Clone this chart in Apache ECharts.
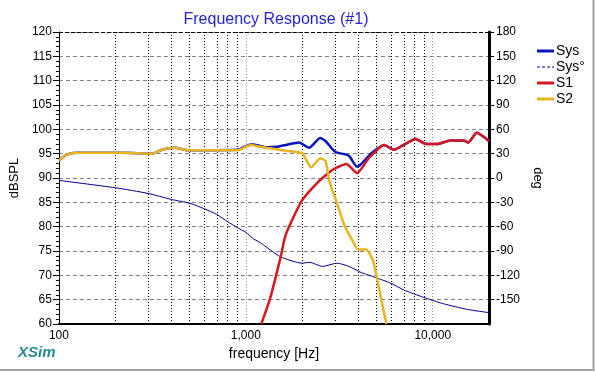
<!DOCTYPE html>
<html>
<head>
<meta charset="utf-8">
<script src="https://cdn.jsdelivr.net/npm/echarts@6/dist/echarts.min.js"></script>
<style>html,body{margin:0;padding:0;background:#fff}#c{width:595px;height:372px}</style>
</head>
<body>
<div id="c"></div>
<script>
// ---- data ----
const sysFreq = [100,110,124,220,316,355,417,490,900,1060,1100,1290,1460,1640,1930,2180,2500,2670,3000,3550,3940,4150,4700,5500,6200,7000,8100,9200,10600,12400,14600,15500,17200,20000];
const sysDb   = [93.6,94.8,95.2,95.2,95.0,95.8,96.2,95.7,95.8,96.9,96.9,96.3,96.4,96.8,97.3,96.2,98.2,97.6,95.4,94.6,92.3,92.9,95.1,96.8,95.8,96.8,98.0,97.0,97.0,97.7,97.7,97.3,99.3,97.6];

const phFreq = [100,200,300,400,500,600,700,800,900,1000,1100,1200,1530,2000,2200,2570,3080,3560,4140,5000,6000,7000,8900,11400,15300,20000];
const phDeg  = [-3,-12,-19,-26.5,-31,-38,-45,-54,-61,-67,-75,-80,-97,-105,-104,-109,-105,-109,-116.5,-123,-130,-138,-147,-155,-162,-166];

const s1Freq = [1210,1350,1530,1640,2000,2470,2800,3000,3450,3940,4530,5500,6200,7000,8100,9200,10600,12400,14600,15500,17200,20000];
const s1Db   = [60,65.3,73.5,78.5,85.4,89.4,91.2,92.0,92.9,91.0,94.0,96.8,95.8,96.8,98.0,97.0,97.0,97.7,97.7,97.3,99.3,97.6];

const s2Freq = [100,110,124,220,316,355,417,490,900,1060,1200,1350,1640,2000,2100,2230,2500,2670,2800,3000,3360,3700,4000,4400,4800,5200,5650];
const s2Db   = [93.6,94.8,95.2,95.2,95.0,95.8,96.2,95.7,95.7,96.8,96.4,96.1,95.6,95.1,93.8,92.2,94.0,93.5,89.3,86.0,80.4,77.3,75.3,75.3,72.9,66.7,60];

const minorFreqs = [200,300,400,500,600,700,800,900,2000,3000,4000,5000,6000,7000,8000,9000];
const leftTicks = {min:60, max:120, step:5};
const rightTicks = {min:-180, max:180, step:30};

const zip = (a,b) => a.map((v,i)=>[v,b[i]]);
const FONT = 'Liberation Sans, Arial, sans-serif';
const BAR_ICON = 'path://M0,0 L17,0 L17,3 L0,3 Z';
const DASH_ICON = 'path://M0,0 L3,0 L3,1 L0,1 Z M5,0 L8,0 L8,1 L5,1 Z M10,0 L13,0 L13,1 L10,1 Z M15,0 L17,0 L17,1 L15,1 Z';

const chart = echarts.init(document.getElementById('c'), null, {renderer:'canvas'});
chart.setOption({
  animation:false,
  backgroundColor:'#fff',
  title:{
    text:'Frequency Response (#1)', left:271, top:7, textAlign:'center',
    textStyle:{color:'#2424d4', fontSize:16, fontWeight:'normal', fontFamily:FONT}
  },
  legend:{
    orient:'vertical', left:532, top:39, itemWidth:17, itemHeight:14, itemGap:2,
    symbolKeepAspect:true,
    textStyle:{fontSize:14, color:'#000', fontFamily:FONT, padding:[0,0,0,-3]},
    data:[
      {name:'Sys', icon:BAR_ICON},
      {name:'Sys°', icon:DASH_ICON},
      {name:'S1', icon:BAR_ICON},
      {name:'S2', icon:BAR_ICON}
    ]
  },
  grid:{left:53, right:106, top:32, bottom:48, containLabel:false},
  xAxis:{
    type:'log', logBase:10, min:100, max:20000,
    name:'frequency [Hz]', nameLocation:'middle', nameGap:21,
    nameTextStyle:{fontSize:14, color:'#000', fontFamily:FONT},
    axisLine:{show:true, onZero:false, lineStyle:{color:'#000', width:2}},
    axisTick:{show:false},
    axisLabel:{color:'#000', fontSize:12, fontFamily:FONT, margin:6, showMaxLabel:false,
      formatter:v => Number(v).toLocaleString('en-US')},
    splitLine:{show:true, lineStyle:{color:'#9a9a9a', type:[1,2], width:1}}
  },
  yAxis:[
    {
      type:'value', min:leftTicks.min, max:leftTicks.max, interval:leftTicks.step,
      name:'dBSPL', nameLocation:'middle', nameGap:35, nameRotate:90,
      nameTextStyle:{fontSize:13, color:'#000', fontFamily:FONT},
      axisLine:{show:true, onZero:false, lineStyle:{color:'#000', width:1}},
      axisTick:{show:true, inside:false, length:6, lineStyle:{color:'#000'}},
      minorTick:{show:true, splitNumber:5, length:3, lineStyle:{color:'#000'}},
      axisLabel:{color:'#000', fontSize:12, fontFamily:FONT, margin:7},
      splitLine:{show:true, lineStyle:{color:'#808080', type:[4,3], width:1}}
    },
    {
      type:'value', min:rightTicks.min, max:rightTicks.max, interval:rightTicks.step,
      position:'right',
      name:'deg', nameLocation:'middle', nameGap:33, nameRotate:-90,
      nameTextStyle:{fontSize:13, color:'#000', fontFamily:FONT},
      axisLine:{show:true, onZero:false, lineStyle:{color:'#000', width:3}},
      axisTick:{show:true, length:5, lineStyle:{color:'#000'}},
      axisLabel:{color:'#000', fontSize:12, fontFamily:FONT, margin:7, showMinLabel:false},
      splitLine:{show:false}
    }
  ],
  series:[
    {
      name:'grid-extra', type:'line', data:[], silent:true, yAxisIndex:0, symbol:'none',
      markLine:{
        silent:true, symbol:'none', label:{show:false}, animation:false,
        lineStyle:{color:'#000', type:[1,2], width:1},
        data: minorFreqs.map(f=>({xAxis:f})).concat([
          {yAxis:120, lineStyle:{color:'#000', type:[4,2], width:1}}
        ])
      }
    },
    {name:'Sys', type:'line', yAxisIndex:0, data:zip(sysFreq,sysDb), symbol:'none', smooth:0.2,
      lineStyle:{color:'#0a14c0', width:2.5}, itemStyle:{color:'#0a14c0'}, z:3},
    {name:'Sys°', type:'line', yAxisIndex:1, data:zip(phFreq,phDeg), symbol:'none', smooth:0.2,
      lineStyle:{color:'#00008c', width:1}, itemStyle:{color:'#00008c'}, z:4},
    {name:'S1', type:'line', yAxisIndex:0, data:zip(s1Freq,s1Db), symbol:'none', smooth:0.2,
      lineStyle:{color:'#d81820', width:2.5}, itemStyle:{color:'#d81820'}, z:5},
    {name:'S2', type:'line', yAxisIndex:0, data:zip(s2Freq,s2Db), symbol:'none', smooth:0.2,
      lineStyle:{color:'#e8b422', width:2.5}, itemStyle:{color:'#e8b422'}, z:6}
  ],
  graphic:[
    {type:'text', left:18, top:345, style:{text:'XSim', fontSize:15, fontWeight:'bold', fontStyle:'italic', fill:'#248c8c', fontFamily:FONT}},
    {type:'line', shape:{x1:0, y1:370, x2:594, y2:370}, style:{stroke:'#a0a0a0', lineWidth:2}},
    {type:'line', shape:{x1:593.5, y1:0, x2:593.5, y2:371}, style:{stroke:'#a0a0a0', lineWidth:2}}
  ]
});
</script>
</body>
</html>
